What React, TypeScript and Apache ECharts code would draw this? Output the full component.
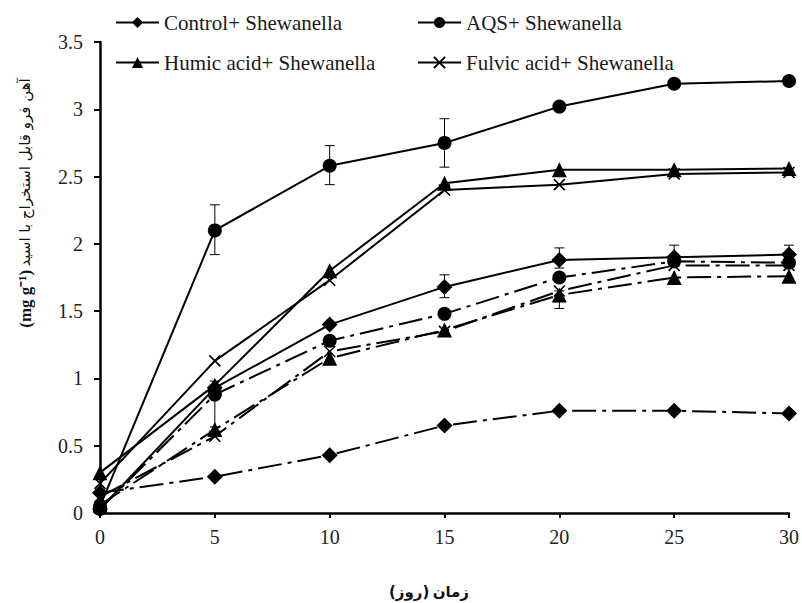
import React, { useEffect, useRef } from "react";
import * as echarts from "echarts";

const days = [0, 5, 10, 15, 20, 25, 30];
const yTicks = [0, 0.5, 1, 1.5, 2, 2.5, 3, 3.5];

const controlPlus = [0.03, 0.93, 1.4, 1.68, 1.88, 1.9, 1.92];
const aqsPlus = [0.05, 2.1, 2.58, 2.75, 3.02, 3.19, 3.21];
const humicPlus = [0.3, 0.95, 1.8, 2.45, 2.55, 2.55, 2.56];
const fulvicPlus = [0.22, 1.13, 1.73, 2.4, 2.44, 2.52, 2.53];

const controlOnly = [0.15, 0.27, 0.43, 0.65, 0.76, 0.76, 0.74];
const aqsOnly = [0.03, 0.88, 1.28, 1.48, 1.75, 1.87, 1.86];
const humicOnly = [0.06, 0.62, 1.15, 1.36, 1.62, 1.75, 1.76];
const fulvicOnly = [0.12, 0.57, 1.2, 1.35, 1.65, 1.84, 1.84];

// [day, low, high]
const errorBars = [
  [5, 1.92, 2.29],
  [10, 2.44, 2.73],
  [15, 2.57, 2.93],
  [15, 1.6, 1.77],
  [20, 1.82, 1.97],
  [25, 1.84, 1.99],
  [30, 1.87, 1.99],
  [20, 1.52, 1.65],
  [5, 0.64, 0.98],
];

const names = [
  "Control+ Shewanella",
  "AQS+ Shewanella",
  "Humic acid+ Shewanella",
  "Fulvic acid+ Shewanella",
];

const SERIF = "'Liberation Serif', 'Times New Roman', Times, serif";
const X_PATH = "path://M0,0L10,10M10,0L0,10";
const DASH_DOT = [24, 6, 4, 6];

function pairs(vals: number[]) {
  return days.map((d, i) => [d, vals[i]]);
}

export default function App() {
  const ref = useRef<HTMLDivElement>(null);
  useEffect(() => {
    if (!ref.current) return;
    const chart = echarts.init(ref.current, null, { renderer: "svg" });

    const mk = (
      name: string,
      vals: number[],
      symbol: string,
      size: number,
      dashed: boolean,
      isX: boolean
    ) => ({
      name,
      type: "line",
      data: pairs(vals),
      symbol,
      symbolSize: size,
      showSymbol: true,
      lineStyle: { color: "#000", width: 2, type: dashed ? DASH_DOT : "solid" },
      itemStyle: isX
        ? { color: "#000", borderColor: "#000", borderWidth: 1.6 }
        : { color: "#000", borderWidth: 0 },
      emphasis: { disabled: true },
      z: 3,
    });

    const legendBase = {
      selectedMode: false,
      orient: "horizontal",
      padding: 0,
      itemWidth: 43,
      itemHeight: 14,
      itemGap: 5,
      textStyle: { fontFamily: SERIF, fontSize: 21, color: "#1a1a1a" },
    };

    chart.setOption({
      animation: false,
      backgroundColor: "#fff",
      grid: { left: 100, right: 11, top: 42, bottom: 90, containLabel: false },
      legend: [
        { ...legendBase, data: [names[0]], left: 115, top: 12 },
        { ...legendBase, data: [names[1]], left: 417, top: 12 },
        { ...legendBase, data: [names[2]], left: 115, top: 52 },
        { ...legendBase, data: [names[3]], left: 417, top: 52 },
      ],
      xAxis: {
        type: "value",
        min: 0,
        max: 30,
        interval: 5,
        splitLine: { show: false },
        axisLine: { show: true, onZero: false, lineStyle: { color: "#000", width: 2.5 } },
        axisTick: { show: true, inside: false, length: 5, lineStyle: { color: "#000", width: 2 } },
        axisLabel: { margin: 14, fontFamily: SERIF, fontSize: 20, color: "#222" },
      },
      yAxis: {
        type: "value",
        min: yTicks[0],
        max: yTicks[yTicks.length - 1],
        interval: 0.5,
        splitLine: { show: false },
        axisLine: { show: true, onZero: false, lineStyle: { color: "#000", width: 2.5 } },
        axisTick: { show: true, inside: false, length: 6, lineStyle: { color: "#000", width: 2 } },
        axisLabel: { margin: 17, fontFamily: SERIF, fontSize: 20, color: "#222" },
      },
      graphic: [
        {
          type: "text",
          x: 25,
          y: 203,
          rotation: Math.PI / 2,
          style: {
            text: "{b|(mg g⁻¹)} {a|آهن فرو قابل استخراج با اسید}",
            align: "center",
            verticalAlign: "middle",
            fill: "#111",
            rich: {
              a: { fontFamily: "'DejaVu Sans'", fontSize: 15, fill: "#111" },
              b: { fontFamily: SERIF, fontSize: 17, fontWeight: "bold", fill: "#111" },
            },
          },
        },
        {
          type: "text",
          x: 429,
          y: 592,
          style: {
            text: "{a|(روز)} {a|زمان}",
            align: "center",
            verticalAlign: "middle",
            fill: "#111",
            rich: {
              a: { fontFamily: "'DejaVu Sans'", fontSize: 15, fontWeight: "bold", fill: "#111" },
            },
          },
        },
      ],
      series: [
        mk(names[0], controlPlus, "diamond", 16, false, false),
        mk(names[1], aqsPlus, "circle", 14, false, false),
        mk(names[2], humicPlus, "triangle", 15, false, false),
        mk(names[3], fulvicPlus, X_PATH, 11, false, true),
        mk("Control", controlOnly, "diamond", 16, true, false),
        mk("AQS", aqsOnly, "circle", 14, true, false),
        mk("Humic acid", humicOnly, "triangle", 15, true, false),
        mk("Fulvic acid", fulvicOnly, X_PATH, 11, true, true),
        {
          name: "errors",
          type: "custom",
          data: errorBars,
          encode: { x: 0, y: [1, 2] },
          z: 2,
          renderItem: (params: any, api: any) => {
            const x = api.value(0);
            const lo = api.coord([x, api.value(1)]);
            const hi = api.coord([x, api.value(2)]);
            const w = 5;
            const st = { stroke: "#000", lineWidth: 1 };
            return {
              type: "group",
              children: [
                { type: "line", shape: { x1: lo[0], y1: lo[1], x2: hi[0], y2: hi[1] }, style: st },
                { type: "line", shape: { x1: lo[0] - w, y1: lo[1], x2: lo[0] + w, y2: lo[1] }, style: st },
                { type: "line", shape: { x1: hi[0] - w, y1: hi[1], x2: hi[0] + w, y2: hi[1] }, style: st },
              ],
            };
          },
        },
      ],
    });
    return () => chart.dispose();
  }, []);
  return <div ref={ref} style={{ width: 802, height: 603, position: "absolute", left: 0, top: 0 }} />;
}
